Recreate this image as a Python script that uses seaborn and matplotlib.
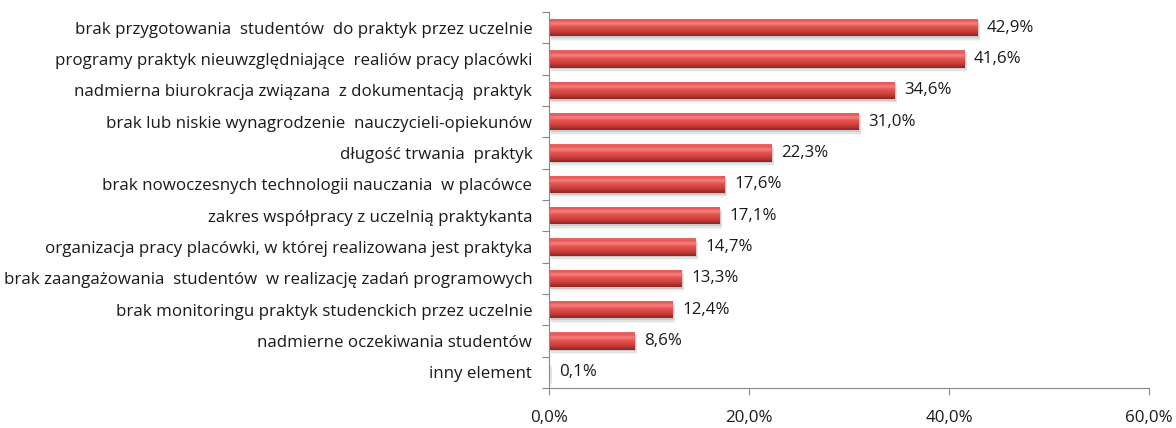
import numpy as np
import pandas as pd
import matplotlib
matplotlib.use("Agg")
import matplotlib.pyplot as plt
from matplotlib.colors import LinearSegmentedColormap
import seaborn as sns

categories = [
    "brak przygotowania  studentów  do praktyk przez uczelnie",
    "programy praktyk nieuwzględniające  realiów pracy placówki",
    "nadmierna biurokracja związana  z dokumentacją  praktyk",
    "brak lub niskie wynagrodzenie  nauczycieli-opiekunów",
    "długość trwania  praktyk",
    "brak nowoczesnych technologii nauczania  w placówce",
    "zakres współpracy z uczelnią praktykanta",
    "organizacja pracy placówki, w której realizowana jest praktyka",
    "brak zaangażowania  studentów  w realizację zadań programowych",
    "brak monitoringu praktyk studenckich przez uczelnie",
    "nadmierne oczekiwania studentów",
    "inny element",
]
values = [42.9, 41.6, 34.6, 31.0, 22.3, 17.6, 17.1, 14.7, 13.3, 12.4, 8.6, 0.1]
x_ticks = [0, 20, 40, 60]

df = pd.DataFrame({"kategoria": categories, "procent": values})

sns.set_theme(style="white")
plt.rcParams["font.family"] = ["Open Sans", "DejaVu Sans"]
FS = 12.2

fig = plt.figure(figsize=(11.76, 4.28), dpi=100)
ax = fig.add_axes([549 / 1176, 40 / 428, 600 / 1176, 376 / 428])

sns.barplot(data=df, x="procent", y="kategoria", orient="h", color="#c0504d",
            width=0.56, ax=ax, saturation=1, edgecolor="none")

# glossy cylinder shading on each bar: light highlight on top, dark red underneath
shade = LinearSegmentedColormap.from_list(
    "gloss", [(0.0, "#e86a67"), (0.12, "#e55552"), (0.3, "#f58380"),
              (0.45, "#e65653"), (0.75, "#cc3d3a"), (1.0, "#8a2624")])
grad = np.linspace(0, 1, 64).reshape(-1, 1)
for patch in list(ax.patches):
    x0, y0 = patch.get_x(), patch.get_y()
    w, h = patch.get_width(), patch.get_height()
    # soft drop shadow
    for k, a in enumerate([0.10, 0.07, 0.04]):
        ax.add_patch(plt.Rectangle((x0 + 0.08 * (k + 1), y0 + 0.05 * (k + 1)), w, h,
                                   color="#000000", alpha=a, zorder=1, lw=0))
    im = ax.imshow(grad, cmap=shade, aspect="auto", origin="upper",
                   extent=(x0, x0 + w, y0 + h, y0), zorder=2,
                   interpolation="bicubic")
    im.set_clip_path(patch)
    patch.set_zorder(2)

for i, v in enumerate(values):
    ax.text(v + 0.9, i, f"{v:.1f}%".replace(".", ","), va="center", ha="left",
            fontsize=FS, color="#1a1a1a", zorder=3)

ax.set_xlim(0, 60)
ax.set_ylim(len(categories) - 0.5, -0.5)
ax.set_xticks(x_ticks)
ax.set_xticklabels([f"{t:.1f}%".replace(".", ",") for t in x_ticks], fontsize=FS,
                   color="#1a1a1a")
ax.set_yticks(range(len(categories)))
ax.set_yticklabels(categories, fontsize=FS, color="#1a1a1a")
ax.tick_params(axis="y", which="major", left=True, length=0, pad=12)
ax.tick_params(axis="x", which="major", bottom=True, length=5, width=0.8,
               color="#888888", direction="out", pad=11)

# ticks between categories on the category axis
ax.set_yticks(np.arange(-0.5, len(categories), 1), minor=True)
ax.tick_params(axis="y", which="minor", left=True, length=5, width=0.8,
               color="#888888", direction="out")

ax.set_xlabel("")
ax.set_ylabel("")
for side in ["top", "right"]:
    ax.spines[side].set_visible(False)
for side in ["left", "bottom"]:
    ax.spines[side].set_color("#888888")
    ax.spines[side].set_linewidth(0.8)

fig.savefig("out.png", dpi=100, facecolor="white")
